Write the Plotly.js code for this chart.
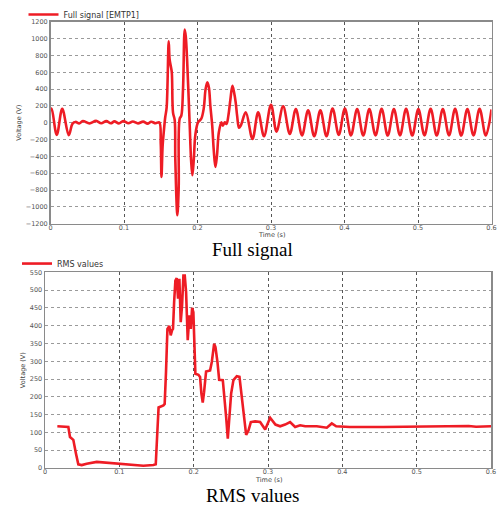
<!DOCTYPE html>
<html>
<head>
<meta charset="utf-8">
<script src="https://cdn.plot.ly/plotly-3.0.1.min.js"></script>
<style>html,body{margin:0;padding:0;background:#fff;}#chart{width:500px;height:506px;}</style>
</head>
<body>
<div id="chart"></div>
<script>
// Full signal [EMTP1]: time (s) and voltage (V)
const fullTime = [0.000, 0.0015, 0.0085, 0.0160, 0.0248, 0.0300,
  0.0340, 0.0390, 0.0440, 0.0530, 0.0620, 0.0690, 0.0760, 0.0820, 0.0870, 0.0930, 0.0990, 0.1060, 0.1120, 0.1190, 0.1260, 0.1320, 0.1370, 0.1430, 0.1480,
  0.1500, 0.1510, 0.1525, 0.1540, 0.1560, 0.1580, 0.1608, 0.1620, 0.1635, 0.1650, 0.1667, 0.1690, 0.1698, 0.1726, 0.1744, 0.1757, 0.1780, 0.1803, 0.1826, 0.1840, 0.1858, 0.1875, 0.1894, 0.1912, 0.1930, 0.1950, 0.1970, 0.2007, 0.2050, 0.2084, 0.2110, 0.2134, 0.2155, 0.2175, 0.2200, 0.2220, 0.2243, 0.2265, 0.2290, 0.2325, 0.2345, 0.2371, 0.2395, 0.2420, 0.2448, 0.2475, 0.2498, 0.2520, 0.2539, 0.2565, 0.2590,
  0.2657, 0.2748, 0.2825, 0.2905, 0.3000, 0.3075, 0.3165, 0.3256, 0.3338, 0.3422, 0.3505, 0.3588, 0.3672, 0.3755, 0.3838, 0.3922, 0.4005, 0.4088, 0.4172, 0.4255, 0.4338, 0.4422, 0.4505, 0.4588, 0.4672, 0.4755, 0.4838, 0.4922, 0.5005, 0.5088, 0.5172, 0.5255, 0.5338, 0.5422, 0.5505, 0.5588, 0.5672, 0.5755, 0.5838, 0.5922, 0.6000];
const fullVolt = [155, 168, -145, 165, -148, -10,
  10, -8, 20, -8, 22, -6, 20, -6, 16, -8, 20, -6, 15, -8, 14, -10, 12, -6, 5,
  -250, -644, -280, -120, 60, 180, 970, 760, 680, 600, 120, 30, -430, -1100, -780, 45, 85, 400, 1110, 1030, 760, 400, -30, -430, -625, -430, -150, 5, 45, 165, 400, 480, 420, 200, -30, -310, -527, -390, -115, 5, -35, 5, -15, 85, 280, 440, 360, 240, 85, -60, -30,
  124, -192, 124, -160, 215, -105, 195, -132, 163, -150, 148, -160, 148, -160, 170, -145, 170, -150, 163, -152, 162, -150, 165, -152, 162, -150, 165, -152, 163, -150, 165, -152, 163, -150, 165, -152, 163, -150, 165, -152, 160];

// RMS values: time (s) and voltage (V)
const rmsTime = [0.0166, 0.0314, 0.0336, 0.0381, 0.0417, 0.0448, 0.0494, 0.0561, 0.0696, 0.0830, 0.1010, 0.1190, 0.1323, 0.1458, 0.1490,
  0.1512, 0.1528, 0.1593, 0.1610, 0.1628, 0.1647, 0.1673, 0.1691, 0.1709, 0.1722, 0.1737, 0.1754, 0.1772, 0.1790, 0.1808, 0.1826, 0.1844, 0.1862, 0.1880, 0.1898, 0.1920, 0.1943, 0.1961, 0.1979, 0.1996, 0.2010, 0.2023, 0.2064, 0.2086, 0.2104, 0.2122, 0.2140, 0.2167, 0.2221, 0.2244, 0.2275, 0.2293, 0.2320, 0.2343, 0.2392, 0.2410, 0.2437, 0.2459, 0.2481, 0.2504, 0.2535, 0.2580, 0.2616, 0.2647, 0.2679, 0.2706, 0.2737, 0.2769, 0.2827, 0.2894, 0.2962, 0.3029, 0.3100, 0.3163, 0.3230, 0.3297, 0.3365, 0.3432, 0.3500, 0.3656, 0.3791, 0.3858, 0.3917, 0.4100, 0.4554, 0.5000, 0.5600, 0.5700, 0.5800, 0.6000];
const rmsVolt = [117, 115, 87, 79, 40, 10, 8, 12, 17, 15, 11, 8, 6, 8, 10,
  104, 170, 176, 180, 270, 391, 399, 373, 387, 391, 466, 527, 534, 476, 532, 410, 457, 541, 541, 495, 359, 429, 391, 450, 438, 298, 265, 262, 256, 209, 184, 213, 271, 274, 298, 349, 340, 298, 248, 247, 213, 143, 82, 147, 209, 247, 258, 256, 204, 138, 93, 105, 129, 131, 129, 108, 141, 122, 117, 122, 129, 115, 120, 117, 117, 113, 125, 117, 115, 115, 116, 116, 118, 116, 117];

const xTicks = [0, 0.1, 0.2, 0.3, 0.4, 0.5, 0.6];
const xTickText = ['0', '0.1', '0.2', '0.3', '0.4', '0.5', '0.6'];
const captions = ['Full signal', 'RMS values'];
const seriesNames = ['Full signal [EMTP1]', 'RMS values'];
const xTitle = 'Time (s)';
const yTitle = 'Voltage (V)';

const RED = '#ee1c25';
const tickFont = {family: 'DejaVu Sans, sans-serif', size: 6.5, color: '#555'};
const titleFont = {family: 'DejaVu Sans, sans-serif', size: 6.5, color: '#444'};

function xAxis(domain, anchor) {
  return {
    domain: domain, anchor: anchor, range: [0, 0.6],
    tickvals: xTicks, ticktext: xTickText,
    showgrid: true, gridcolor: '#555', griddash: 'dot', gridwidth: 1,
    showline: true, linecolor: '#8a8a8a', linewidth: 1.5, mirror: true,
    zeroline: false, ticks: '', tickfont: tickFont, ticklabelstandoff: -3,
    automargin: false, fixedrange: true
  };
}
function yAxis(domain, anchor, range, dtick) {
  return {
    domain: domain, anchor: anchor, range: range, dtick: dtick, tick0: 0,
    showgrid: true, gridcolor: '#9a9a9a', griddash: '3px,3px', gridwidth: 1,
    showline: true, linecolor: '#8a8a8a', linewidth: 1.5, mirror: true,
    zeroline: false, ticks: '', tickfont: tickFont,
    title: {text: yTitle, font: titleFont, standoff: 3},
    automargin: false, fixedrange: true
  };
}

const traces = [
  {x: fullTime, y: fullVolt, type: 'scatter', mode: 'lines', name: seriesNames[0],
   line: {color: RED, width: 2.6, shape: 'spline', smoothing: 1}, xaxis: 'x', yaxis: 'y', legend: 'legend'},
  {x: rmsTime, y: rmsVolt, type: 'scatter', mode: 'lines', name: seriesNames[1],
   line: {color: RED, width: 2.6}, xaxis: 'x2', yaxis: 'y2', legend: 'legend2'}
];

const legendCommon = {xanchor: 'left', yanchor: 'middle', bgcolor: 'rgba(0,0,0,0)',
  font: {family: 'DejaVu Sans, sans-serif', size: 8, color: '#333'}, itemwidth: 30, tracegroupgap: 0};

const capFont = {family: 'Liberation Serif, Times New Roman, serif', size: 19, color: '#000'};

const layout = {
  width: 500, height: 506,
  margin: {l: 0, r: 0, t: 0, b: 0},
  paper_bgcolor: '#fff', plot_bgcolor: '#fff',
  showlegend: true,
  xaxis: xAxis([0.101, 0.983], 'y'),
  yaxis: yAxis([0.5613, 0.9625], 'x', [-1200, 1200], 200),
  xaxis2: xAxis([0.09, 0.982], 'y2'),
  yaxis2: yAxis([0.0757, 0.4645], 'x2', [0, 550], 50),
  legend: Object.assign({x: 0.047, y: 0.978}, legendCommon),
  legend2: Object.assign({x: 0.034, y: 0.482}, legendCommon),
  annotations: [
    {text: xTitle, xref: 'x domain', yref: 'paper', x: 0.5, y: 0.5385, xanchor: 'center', yanchor: 'middle', showarrow: false, font: titleFont, borderpad: 0},
    {text: xTitle, xref: 'x2 domain', yref: 'paper', x: 0.5, y: 0.0525, xanchor: 'center', yanchor: 'middle', showarrow: false, font: titleFont, borderpad: 0},
    {text: captions[0], xref: 'paper', yref: 'paper', x: 0.505, y: 0.509, xanchor: 'center', yanchor: 'middle', showarrow: false, font: capFont, borderpad: 0},
    {text: captions[1], xref: 'paper', yref: 'paper', x: 0.505, y: 0.020, xanchor: 'center', yanchor: 'middle', showarrow: false, font: capFont, borderpad: 0}
  ]
};

Plotly.newPlot('chart', traces, layout, {displayModeBar: false, staticPlot: true});
</script>
</body>
</html>
